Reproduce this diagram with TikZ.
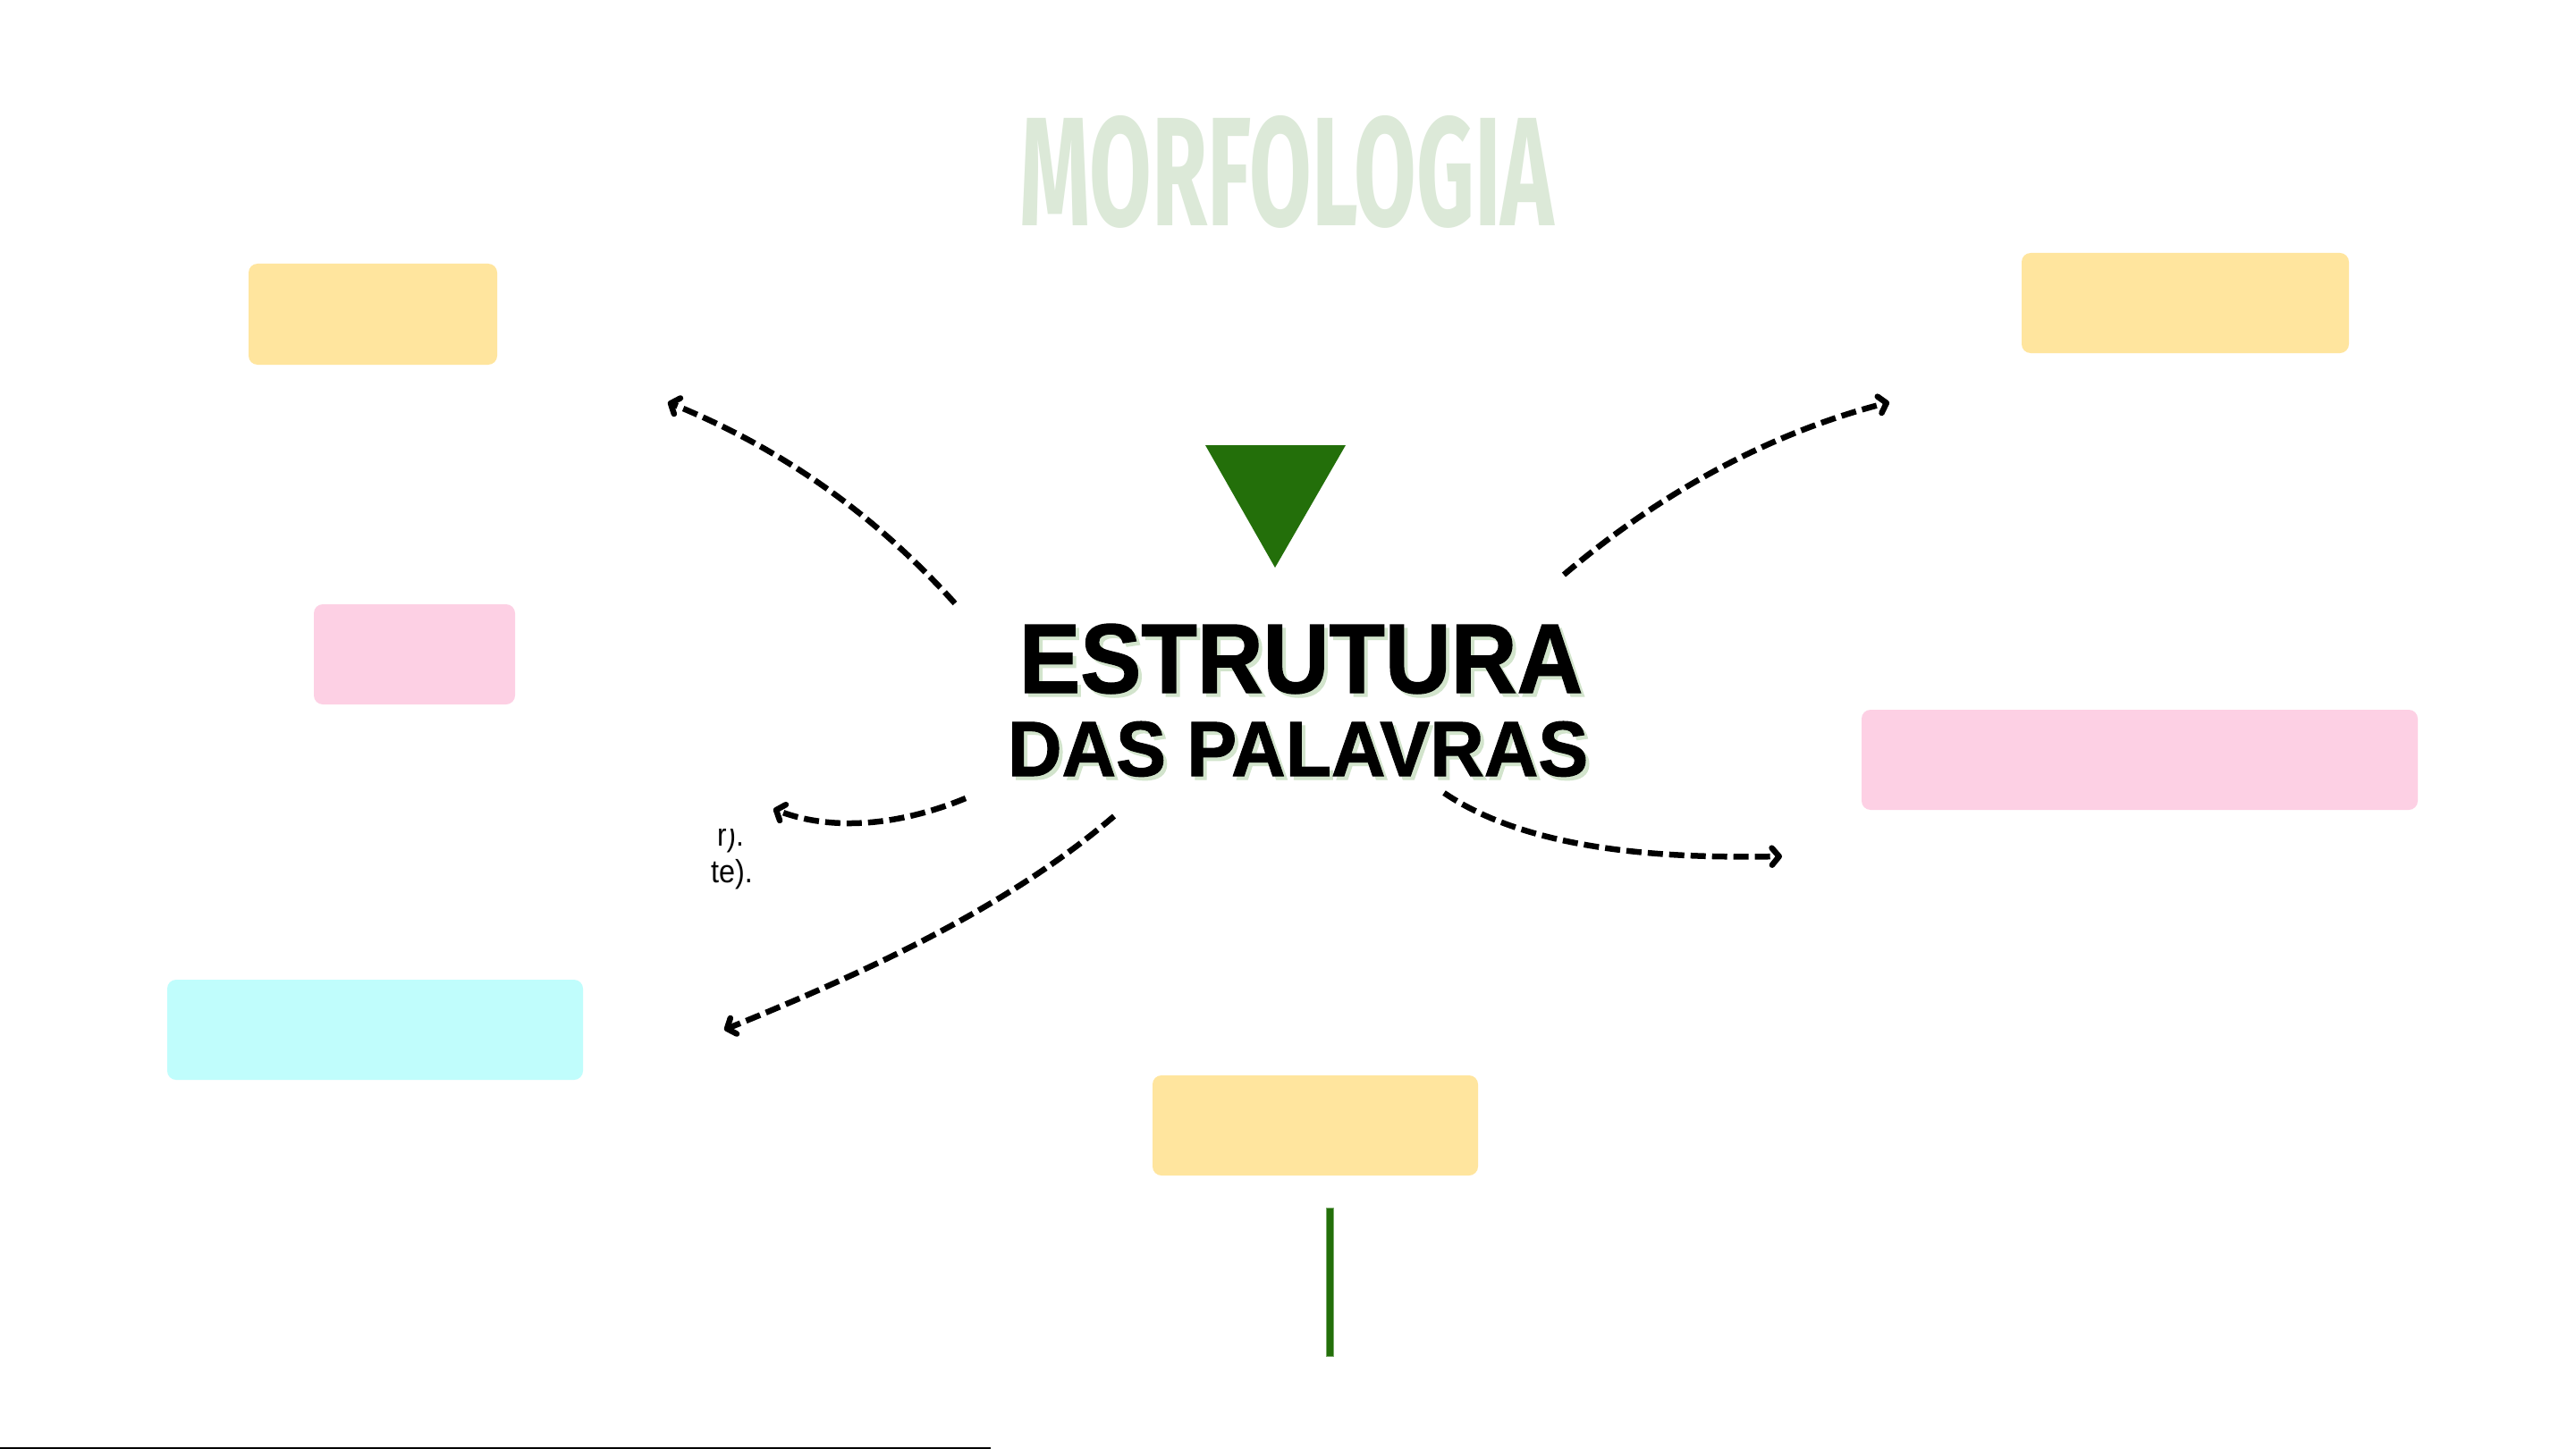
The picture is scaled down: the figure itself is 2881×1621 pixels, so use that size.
\documentclass[tikz,border=0pt]{standalone}
\usepackage{fontspec}
\usetikzlibrary{arrows.meta}
\newfontfamily\libsans{Liberation Sans}
\newfontfamily\heavysans[FakeBold=1.2]{Liberation Sans Bold}
\newfontfamily\firasans{Fira Sans}
\definecolor{boxyellow}{HTML}{FFE59E}
\definecolor{boxpink}{HTML}{FDD0E4}
\definecolor{boxcyan}{HTML}{C0FDFC}
\definecolor{titlegreen}{HTML}{DCE9D8}
\definecolor{darkgreen}{HTML}{236F0A}
\definecolor{shadowgreen}{HTML}{D2E4CC}
\tikzset{
  notebox/.style={rounded corners=10pt, inner sep=0pt, outer sep=0pt, anchor=north west},
  flowarrow/.style={line width=6.5pt, dash pattern=on 17pt off 7pt,
    -{Straight Barb[length=8pt,width=19pt,round]}},
  plaintext/.style={inner sep=0pt, outer sep=0pt, anchor=base west},
}
\begin{document}
\begin{tikzpicture}[x=1pt,y=-1pt]
\useasboundingbox[fill=white] (0,0) rectangle (2881,1621);

% title
\node[plaintext, text=titlegreen] (title) at (1140,253)
  {\resizebox{598pt}{123pt}{\firasans\bfseries MORFOLOGIA}};

% boxes
\node[notebox, fill=boxyellow, minimum width=278pt, minimum height=113pt] (b1) at (278,295) {};
\node[notebox, fill=boxpink, minimum width=225pt, minimum height=112pt] (b2) at (351,676) {};
\node[notebox, fill=boxcyan, minimum width=465pt, minimum height=112pt] (b3) at (187,1096) {};
\node[notebox, fill=boxyellow, minimum width=366pt, minimum height=112pt] (b4) at (2261,283) {};
\node[notebox, fill=boxpink, minimum width=622pt, minimum height=112pt] (b5) at (2082,794) {};
\node[notebox, fill=boxyellow, minimum width=364pt, minimum height=112pt] (b6) at (1289,1203) {};

% triangle
\coordinate (tA) at (1348,498);
\coordinate (tB) at (1505,498);
\coordinate (tC) at (1426,635);
\fill[darkgreen] (tA) -- (tB) -- (tC) -- cycle;

% central title with shadow
\node[plaintext, text=shadowgreen] (c1s) at (1144,779)
  {\resizebox{630pt}{77pt}{\heavysans ESTRUTURA}};
\node[plaintext] (c1) at (1140,775)
  {\resizebox{630pt}{77pt}{\heavysans ESTRUTURA}};
\node[plaintext, text=shadowgreen] (c2s) at (1131,872)
  {\resizebox{649pt}{61pt}{\heavysans DAS PALAVRAS}};
\node[plaintext] (c2) at (1127,868)
  {\resizebox{649pt}{61pt}{\heavysans DAS PALAVRAS}};

% small clipped text
\begin{scope}
  \clip (700,927) rectangle (900,1010);
  \node[plaintext] (s1) at (802,946)
    {\libsans\fontsize{36pt}{36pt}\selectfont\scalebox{0.88}[1]{r).}};
\end{scope}
\node[plaintext] (s2) at (795,987)
  {\libsans\fontsize{36pt}{36pt}\selectfont\scalebox{0.9}[1]{te).}};

% arrows
\coordinate (a1s) at (1068,675); \coordinate (a1e) at (747,450);
\coordinate (a2s) at (1749,643); \coordinate (a2e) at (2113,450);
\coordinate (a3s) at (1080,893); \coordinate (a3e) at (865,905);
\coordinate (a4s) at (1246,913); \coordinate (a4e) at (810,1152);
\coordinate (a5s) at (1615,887); \coordinate (a5e) at (1993,958);
\draw[flowarrow] (a1s) .. controls (975,572) and (870,500) .. (a1e);
\draw[flowarrow] (a2s) .. controls (1855,553) and (1977,485) .. (a2e);
\draw[flowarrow] (a3s) .. controls (1005,924) and (930,930) .. (a3e);
\draw[flowarrow] (a4s) .. controls (1121,1020) and (957,1092) .. (a4e);
\draw[flowarrow] (a5s) .. controls (1715,955) and (1874,960) .. (a5e);

% green bar
\node[notebox, rounded corners=0pt, fill=darkgreen, draw=darkgreen!60, line width=0.8pt,
  minimum width=8pt, minimum height=166pt] (bar) at (1483,1351) {};

% bottom line
\coordinate (l1) at (0,1620);
\coordinate (l2) at (1108,1620);
\draw[line width=2.5pt] (l1) -- (l2);
\end{tikzpicture}
\end{document}
